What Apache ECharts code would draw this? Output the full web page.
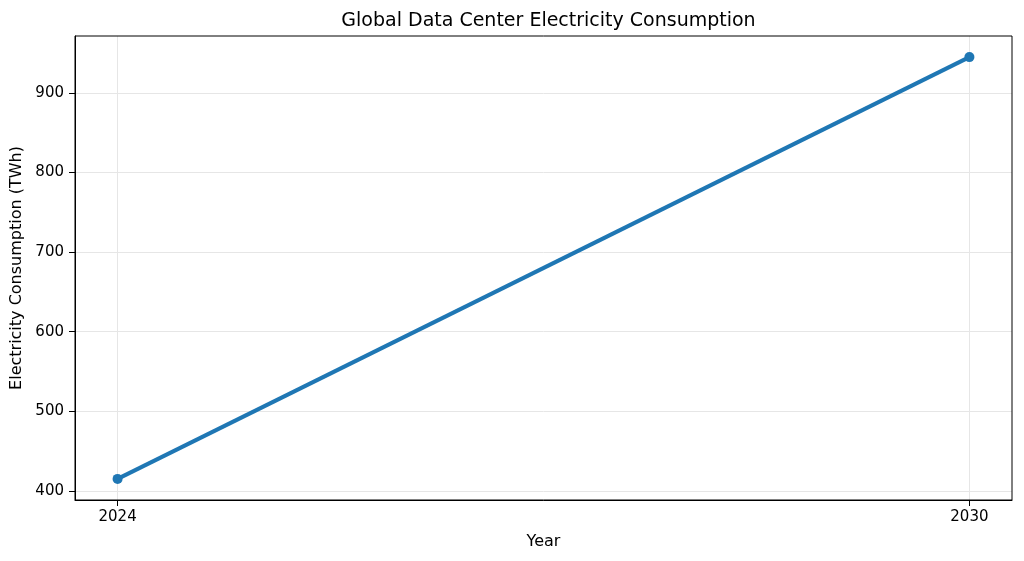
<!DOCTYPE html>
<html>
<head>
<meta charset="utf-8">
<script src="https://cdn.jsdelivr.net/npm/echarts@6/dist/echarts.min.js"></script>
<style>
  html, body { margin: 0; padding: 0; background: #fff; }
  #chart { width: 1024px; height: 561px; }
</style>
</head>
<body>
<div id="chart"></div>
<script>
// chart data
const years = [2024, 2030];
const consumption = [415, 945];
const xTicks = [2024, 2030];
const yTicks = [400, 500, 600, 700, 800, 900];

const font = "DejaVu Sans";

const chart = echarts.init(document.getElementById("chart"));

chart.setOption({
    animation: false,
    backgroundColor: "#fff",
    title: {
        text: "Global Data Center Electricity Consumption",
        left: 543.5,
        textAlign: "center",
        top: 7,
        textStyle: { fontFamily: font, fontSize: 19, fontWeight: "normal", color: "#000" }
    },
    grid: { left: 75, right: 12, top: 36, bottom: 61, containLabel: false },
    xAxis: {
        type: "value",
        min: 2023.7,
        max: 2030.3,
        name: "Year",
        nameLocation: "middle",
        nameGap: 34,
        nameTextStyle: { fontFamily: font, fontSize: 16, color: "#000" },
        axisLine: { show: true, onZero: false, lineStyle: { color: "#000", width: 1 } },
        axisTick: { show: true, customValues: xTicks, length: 6, lineStyle: { color: "#000" } },
        axisLabel: {
            customValues: xTicks,
            formatter: (v) => String(v),
            fontFamily: font, fontSize: 15, color: "#000", margin: 10
        },
        splitLine: { show: true, lineStyle: { color: "#e6e6e6", width: 1 } }
    },
    yAxis: {
        type: "value",
        min: 388.5,
        max: 971.5,
        name: "Electricity Consumption (TWh)",
        nameLocation: "middle",
        nameGap: 48,
        nameTextStyle: { fontFamily: font, fontSize: 16, color: "#000" },
        axisLine: { show: true, onZero: false, lineStyle: { color: "#000", width: 1 } },
        axisTick: { show: true, customValues: yTicks, length: 6, lineStyle: { color: "#000" } },
        axisLabel: {
            customValues: yTicks,
            formatter: (v) => String(v),
            fontFamily: font, fontSize: 15, color: "#000", margin: 11
        },
        splitLine: { show: true, lineStyle: { color: "#e6e6e6", width: 1 } }
    },
    series: [{
        type: "line",
        data: years.map((y, i) => [y, consumption[i]]),
        symbol: "circle",
        symbolSize: 10,
        lineStyle: { color: "#1f77b4", width: 4 },
        itemStyle: { color: "#1f77b4" }
    }],
    // close the frame on the top and right
    graphic: [{
        type: "rect",
        shape: { x: 75, y: 36, width: 1024 - 75 - 12, height: 561 - 36 - 61 },
        style: { fill: "none", stroke: "#000", lineWidth: 1 },
        silent: true,
        z: 10
    }]
});
</script>
</body>
</html>
